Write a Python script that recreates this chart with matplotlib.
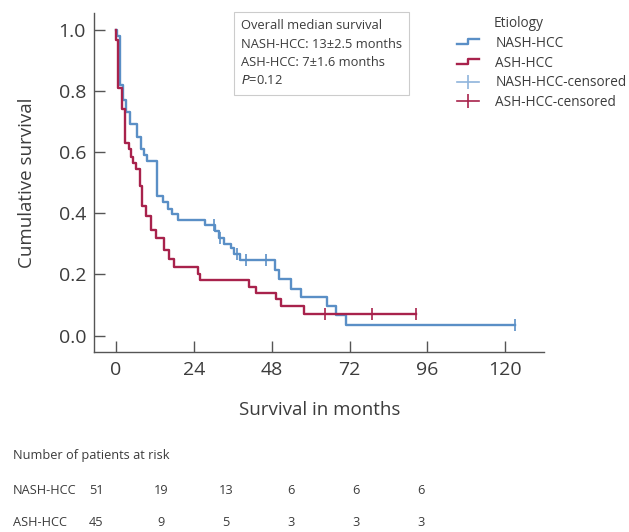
import numpy as np
import matplotlib
matplotlib.use("Agg")
from matplotlib import pyplot as plt
from matplotlib.lines import Line2D
from matplotlib.legend_handler import HandlerBase

# Kaplan-Meier steps (months, survival after the step)
nash_t = [0, 0.4, 1.2, 2.2, 3.0, 4.3, 6.6, 7.6, 8.6, 9.4, 12.7, 14.4, 15.9, 17.3, 19.0,
          27.3, 30.6, 31.8, 33.4, 35.5, 36.5, 38.1, 48.9, 50.2, 54.0, 57.1, 65.0, 67.9,
          71.0, 122.9]
nash_s = [1.0, 0.98, 0.82, 0.77, 0.73, 0.69, 0.65, 0.61, 0.59, 0.57, 0.455, 0.435, 0.415,
          0.398, 0.377, 0.361, 0.343, 0.318, 0.300, 0.285, 0.268, 0.247, 0.214, 0.184,
          0.154, 0.125, 0.098, 0.066, 0.034, 0.034]
nash_cens = [30.2, 31.9, 37.2, 40.1, 46.2, 122.9]

ash_t = [0, 0.1, 0.6, 1.8, 2.6, 4.0, 4.7, 5.3, 6.0, 7.3, 7.9, 9.1, 10.7, 12.2, 14.9,
         16.4, 18.0, 25.2, 26.0, 41.0, 43.0, 49.4, 50.9, 58.1, 92.4]
ash_s = [1.0, 0.965, 0.81, 0.74, 0.63, 0.61, 0.585, 0.565, 0.545, 0.49, 0.425, 0.39,
         0.345, 0.318, 0.28, 0.252, 0.225, 0.203, 0.181, 0.16, 0.14, 0.12, 0.097, 0.07,
         0.07]
ash_cens = [64.3, 79.0, 92.4]

x_ticks = [0, 24, 48, 72, 96, 120]
y_ticks = [0.0, 0.2, 0.4, 0.6, 0.8, 1.0]

risk_groups = ["NASH-HCC", "ASH-HCC"]
nash_risk = [51, 19, 13, 6, 6, 6]
ash_risk = [45, 9, 5, 3, 3, 3]

blue = "#5a8fc6"
red = "#a8224c"
grey = "#3c3c3c"

plt.rcParams['font.family'] = ['Open Sans', 'DejaVu Sans']


def level_at(t, times, surv):
    idx = np.searchsorted(times, t, side='right') - 1
    return np.asarray(surv)[idx]


class StepHandler(HandlerBase):
    def create_artists(self, legend, orig, xd, yd, w, h, fontsize, trans):
        xs = [xd, xd + w * 0.5, xd + w * 0.5, xd + w]
        ys = [yd + h * 0.25, yd + h * 0.25, yd + h * 0.8, yd + h * 0.8]
        ln = Line2D(xs, ys, color=orig.get_color(), lw=orig.get_linewidth(), transform=trans)
        return [ln]


fig = plt.figure(figsize=(6.29, 5.32), dpi=100)
ax = fig.add_axes([0.15, 0.338, 0.715, 0.6376])

l1, = ax.step(nash_t, nash_s, where='post', color=blue, lw=1.7)
l2, = ax.step(ash_t, ash_s, where='post', color=red, lw=1.7)
ax.plot(nash_cens, level_at(nash_cens, nash_t, nash_s), ls='none', marker='|',
        ms=8, mew=1.2, color=blue)
ax.plot(ash_cens, level_at(ash_cens, ash_t, ash_s), ls='none', marker='|',
        ms=8, mew=1.2, color=red)

ax.set_xlim(-6.7, 132)
ax.set_ylim(-0.054, 1.054)
ax.set_xticks(x_ticks)
ax.set_yticks(y_ticks)
ax.set_yticklabels(["%.1f" % v for v in y_ticks])
for s in ['top', 'right']:
    ax.spines[s].set_visible(False)
for s in ['left', 'bottom']:
    ax.spines[s].set_color("#555555")
    ax.spines[s].set_linewidth(1.0)
ax.tick_params(direction='in', length=8, width=1.0, color="#555555",
               labelsize=14, labelcolor=grey, pad=6)
ax.set_xlabel("Survival in months", fontsize=13.5, color=grey, labelpad=16)
ax.set_ylabel("Cumulative survival", fontsize=13.5, color=grey, labelpad=16)

ax.text(241 / 629, 1 - 19 / 532, "Overall median survival\nNASH-HCC: 13\u00b12.5 months\n"
        "ASH-HCC: 7\u00b11.6 months\n$\\mathit{P}$=0.12",
        transform=fig.transFigure, ha='left', va='top', fontsize=9.3, color=grey,
        linespacing=1.55,
        bbox=dict(boxstyle='square,pad=0.55', fc='white', ec='#cccccc', lw=0.8))

h3 = Line2D([], [], color="#8fb4dc", lw=1.2, marker='|', ms=10, mew=1.2)
h4 = Line2D([], [], color=red, lw=1.2, marker='|', ms=10, mew=1.2)
fig.text(494 / 629, 0.955, "Etiology", fontsize=9.8, color=grey, ha='left', va='center')
fig.legend([l1, l2, h3, h4],
           ["NASH-HCC", "ASH-HCC", "NASH-HCC-censored", "ASH-HCC-censored"],
           handler_map={l1: StepHandler(), l2: StepHandler()},
           loc='upper left', bbox_to_anchor=(0.718, 0.943), frameon=False,
           fontsize=9.8, labelcolor=grey, handlelength=1.6, handletextpad=1.2,
           labelspacing=0.35, borderaxespad=0)

fig.text(13 / 629, 1 - 455 / 532, "Number of patients at risk", fontsize=9.2,
         color=grey, ha='left', va='center')
for row, (name, vals) in enumerate(zip(risk_groups, [nash_risk, ash_risk])):
    yy = 1 - (490 + 32 * row) / 532
    fig.text(13 / 629, yy, name, fontsize=9.2, color=grey, ha='left', va='center')
    for k, v in enumerate(vals):
        fig.text((96 + 65 * k) / 629, yy, str(v), fontsize=9.2, color=grey,
                 ha='center', va='center')

fig.savefig("out.png", dpi=100)
